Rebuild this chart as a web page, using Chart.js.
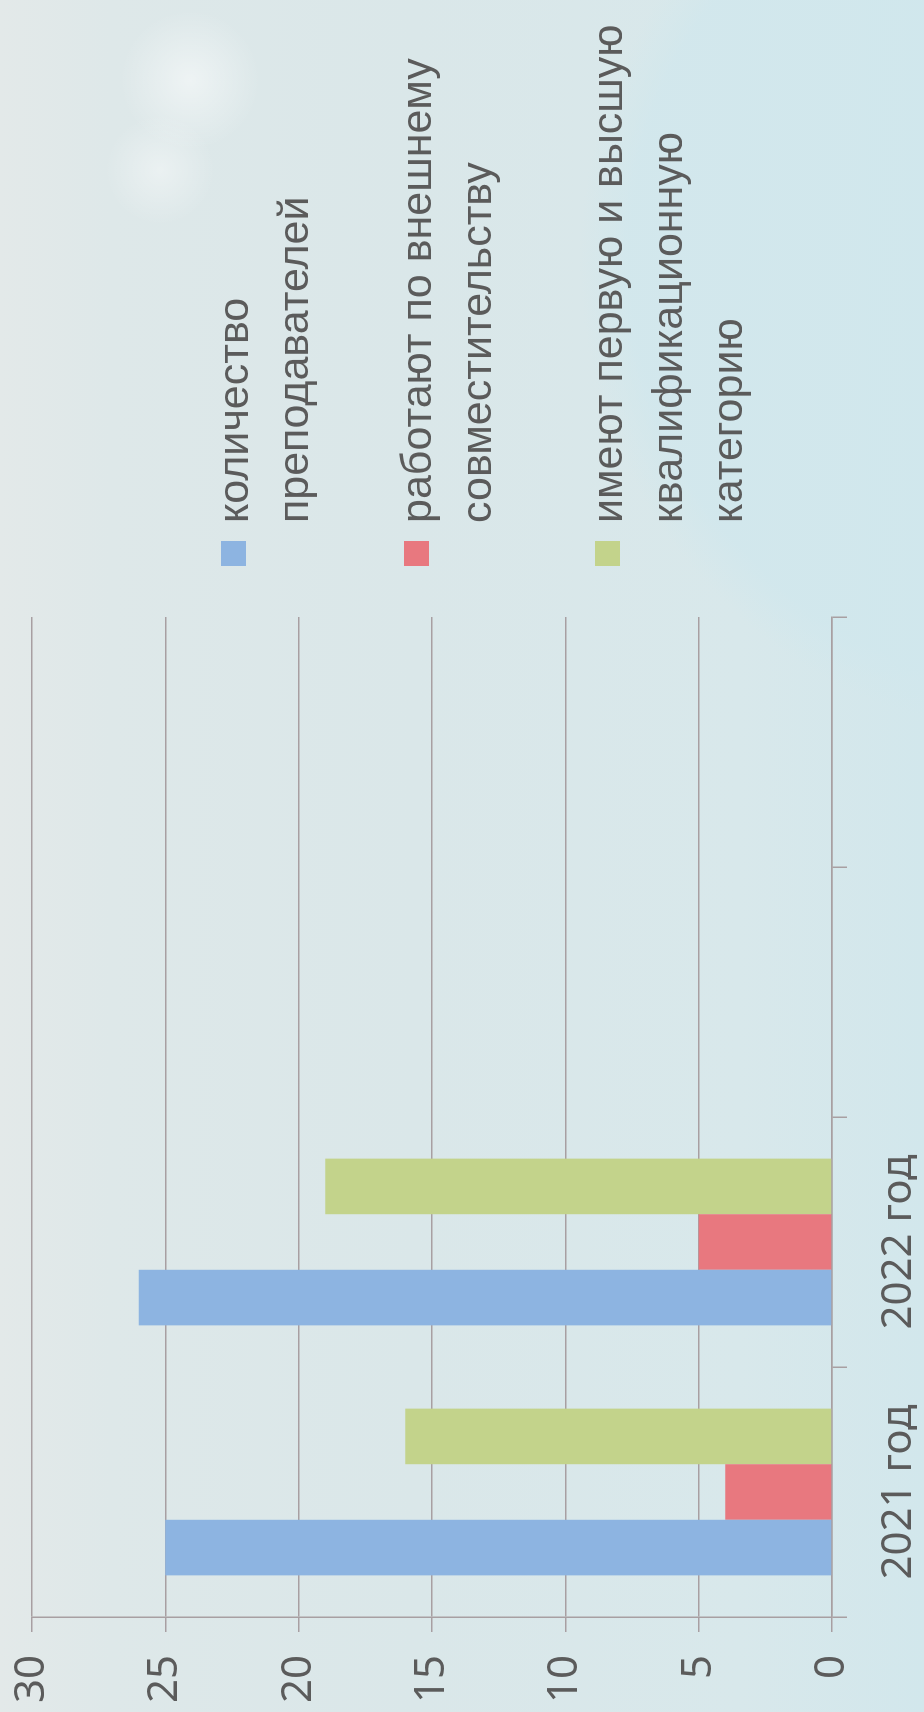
<!DOCTYPE html>
<html>
<head>
<meta charset="utf-8">
<script src="https://cdn.jsdelivr.net/npm/chart.js@4.4.1/dist/chart.umd.min.js"></script>
<style>
html, body { margin: 0; padding: 0; width: 924px; height: 1712px; overflow: hidden; }
body {
  background:
    radial-gradient(circle at 190px 80px, rgba(255,255,255,0.5) 0, rgba(255,255,255,0) 70px),
    radial-gradient(circle at 160px 170px, rgba(255,255,255,0.4) 0, rgba(255,255,255,0) 55px),
    radial-gradient(circle at 1060px 260px, rgba(208,231,237,0.75) 0, rgba(208,231,237,0.75) 430px, rgba(208,231,237,0) 480px),
    linear-gradient(to right, #e3e9e9 0%, #dee8e9 12%, #dae7e9 45%, #d8e8eb 80%, #d2e7ec 100%);
}
#rot {
  position: absolute; left: 0; top: 0; width: 1712px; height: 924px;
  transform-origin: 0 0; transform: translate(0, 1712px) rotate(-90deg);
}
#chart { position: absolute; left: 0; top: 0; width: 1712px; height: 924px; }
#legend { position: absolute; left: 1146px; top: 0; width: 566px; height: 924px; }
.item { position: absolute; left: 0; width: 566px; font-family: "Liberation Sans", Arial, sans-serif; font-size: 43px; line-height: 60px; color: #5b5b5b; }
.sw { position: absolute; left: 0; top: 18px; width: 25px; height: 25px; }
.tx { position: absolute; left: 43px; top: 0; width: 520px; }
</style>
</head>
<body>
<div id="rot">
  <canvas id="chart" width="1712" height="924"></canvas>
  <div id="legend"></div>
</div>
<script>
// ---- data ----
const categories = ['2021 год', '2022 год', '', ''];
const seriesNames = [
  'количество преподавателей',
  'работают по внешнему совместительству',
  'имеют первую и высшую квалификационную категорию'
];
const teachers  = [25, 26, null, null];
const external  = [4, 5, null, null];
const qualified = [16, 19, null, null];
const valueTicks = [0, 5, 10, 15, 20, 25, 30];

// ---- styles ----
const seriesColors = ['#8db4e1', '#e8787f', '#c3d38b'];
const legendTops = [203, 386, 577];
const lineColor = '#a89fa2';
const textColor = '#5b5b5b';

function draw() {
  const seriesValues = [teachers, external, qualified];
  const ctx = document.getElementById('chart');
  new Chart(ctx, {
    type: 'bar',
    data: {
      labels: categories,
      datasets: seriesNames.map((name, i) => ({
        label: name,
        data: seriesValues[i],
        backgroundColor: seriesColors[i],
        borderWidth: 0,
        barPercentage: 1,
        categoryPercentage: 0.667
      }))
    },
    options: {
      responsive: false,
      animation: false,
      layout: { padding: { top: 32, right: 617, bottom: 0, left: 0 } },
      plugins: { legend: { display: false }, tooltip: { enabled: false } },
      scales: {
        x: {
          grid: { display: true, drawOnChartArea: false, drawTicks: true, tickLength: 15, color: lineColor, lineWidth: 1.5, offset: true },
          border: { display: true, color: lineColor, width: 1.5 },
          ticks: { color: textColor, font: { family: 'Noto Sans', size: 42 }, padding: 27, maxRotation: 0, autoSkip: false },
          afterFit: s => { s.height = 92; s.paddingLeft = 0; s.paddingRight = 0; }
        },
        y: {
          min: valueTicks[0],
          max: valueTicks[valueTicks.length - 1],
          afterBuildTicks: s => { s.ticks = valueTicks.map(v => ({ value: v })); },
          grid: { color: lineColor, lineWidth: 1.5, tickLength: 15, drawTicks: true },
          border: { display: true, color: lineColor, width: 1.5 },
          ticks: { color: textColor, font: { family: 'Noto Sans', size: 42 }, padding: 23 },
          afterFit: s => { s.width = 95; s.paddingTop = 0; s.paddingBottom = 0; }
        }
      }
    }
  });

  const legend = document.getElementById('legend');
  seriesNames.forEach((name, i) => {
    const item = document.createElement('div');
    item.className = 'item';
    item.style.top = legendTops[i] + 'px';
    const sw = document.createElement('div');
    sw.className = 'sw';
    sw.style.background = seriesColors[i];
    const tx = document.createElement('div');
    tx.className = 'tx';
    tx.textContent = name;
    item.appendChild(sw);
    item.appendChild(tx);
    legend.appendChild(item);
  });
}

Promise.all([
  document.fonts.load('42px "Noto Sans"'),
  document.fonts.load('43px "Liberation Sans"')
]).then(draw, draw);
</script>
</body>
</html>
